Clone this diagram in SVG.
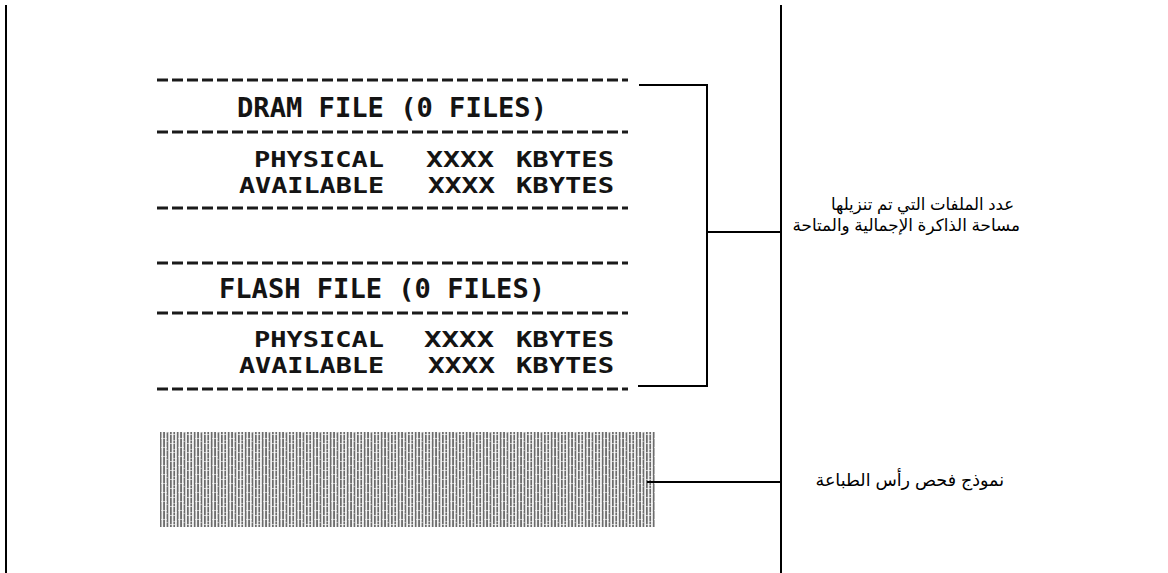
<svg xmlns="http://www.w3.org/2000/svg" width="1168" height="573" viewBox="0 0 1168 573">
<style>
.pt{font-family:"DejaVu Sans Mono","Liberation Mono",monospace;font-weight:bold;fill:#141414;}
.hd{font-size:26px;}
.rw{font-size:22px;}
.ds{stroke:#1a1a1a;stroke-width:3;stroke-dasharray:11 4;fill:none;}
.ln{stroke:#000;stroke-width:2;fill:none;}
.ar{font-family:"Liberation Sans","DejaVu Sans","Noto Sans",sans-serif;fill:#000;}
</style>
<defs>
<pattern id="stripes" width="3.4" height="10" patternUnits="userSpaceOnUse">
<rect width="3.4" height="10" fill="#f4f4f4"/>
<rect x="0" width="1.7" height="10" fill="#6c6c6c"/>
</pattern>
<pattern id="breaks" width="17" height="9" patternUnits="userSpaceOnUse">
<rect x="0" y="2" width="5" height="1" fill="#fff" opacity="0.6"/>
<rect x="8" y="6" width="6" height="1" fill="#fff" opacity="0.55"/>
<rect x="3" y="8" width="4" height="1" fill="#fff" opacity="0.45"/>
<rect x="12" y="0" width="3" height="1" fill="#fff" opacity="0.4"/>
</pattern>
</defs>
<rect width="1168" height="573" fill="#fff"/>
<g id="frame">
<line class="ln" x1="6" y1="5" x2="6" y2="573"/>
<line class="ln" x1="781" y1="5" x2="781" y2="573"/>
</g>
<g id="dram-block">
<line class="ds" x1="157" y1="80" x2="628" y2="80"/>
<text class="pt hd" x="237" y="117" textLength="310" lengthAdjust="spacingAndGlyphs">DRAM FILE (0 FILES)</text>
<line class="ds" x1="157" y1="132" x2="628" y2="132"/>
<text class="pt rw" x="254" y="167" textLength="130" lengthAdjust="spacingAndGlyphs">PHYSICAL</text>
<text class="pt rw" x="426" y="167" textLength="68" lengthAdjust="spacingAndGlyphs">XXXX</text>
<text class="pt rw" x="516" y="167" textLength="98" lengthAdjust="spacingAndGlyphs">KBYTES</text>
<text class="pt rw" x="239" y="193" textLength="145" lengthAdjust="spacingAndGlyphs">AVAILABLE</text>
<text class="pt rw" x="428" y="193" textLength="67" lengthAdjust="spacingAndGlyphs">XXXX</text>
<text class="pt rw" x="516" y="193" textLength="98" lengthAdjust="spacingAndGlyphs">KBYTES</text>
<line class="ds" x1="157" y1="208" x2="628" y2="208"/>
</g>
<g id="flash-block">
<line class="ds" x1="157" y1="263" x2="628" y2="263"/>
<text class="pt hd" x="219" y="298" textLength="326" lengthAdjust="spacingAndGlyphs">FLASH FILE (0 FILES)</text>
<line class="ds" x1="157" y1="313" x2="628" y2="313"/>
<text class="pt rw" x="254" y="347" textLength="130" lengthAdjust="spacingAndGlyphs">PHYSICAL</text>
<text class="pt rw" x="424" y="347" textLength="70" lengthAdjust="spacingAndGlyphs">XXXX</text>
<text class="pt rw" x="516" y="347" textLength="98" lengthAdjust="spacingAndGlyphs">KBYTES</text>
<text class="pt rw" x="239" y="373" textLength="145" lengthAdjust="spacingAndGlyphs">AVAILABLE</text>
<text class="pt rw" x="428" y="373" textLength="67" lengthAdjust="spacingAndGlyphs">XXXX</text>
<text class="pt rw" x="516" y="373" textLength="98" lengthAdjust="spacingAndGlyphs">KBYTES</text>
<line class="ds" x1="157" y1="389" x2="628" y2="389"/>
</g>
<g id="test-pattern">
<rect x="160" y="432" width="495" height="95" fill="url(#stripes)"/>
<rect x="160" y="432" width="495" height="95" fill="url(#breaks)"/>
</g>
<g id="connectors">
<path class="ln" d="M639 85 H707 V386 H638"/>
<path class="ln" d="M707 232 H780"/>
<path class="ln" d="M647 482 H780"/>
</g>
<g id="label-memory">
<text class="ar" x="1014" y="210" text-anchor="end" style="font-size:16.5px">عدد الملفات التي تم تنزيلها</text>
<text class="ar" x="1020" y="231" text-anchor="end" style="font-size:16.8px">مساحة الذاكرة الإجمالية والمتاحة</text>
</g>
<g id="label-printhead">
<text class="ar" x="1004" y="486" text-anchor="end" style="font-size:17.5px">نموذج فحص رأس الطباعة</text>
</g>
</svg>
